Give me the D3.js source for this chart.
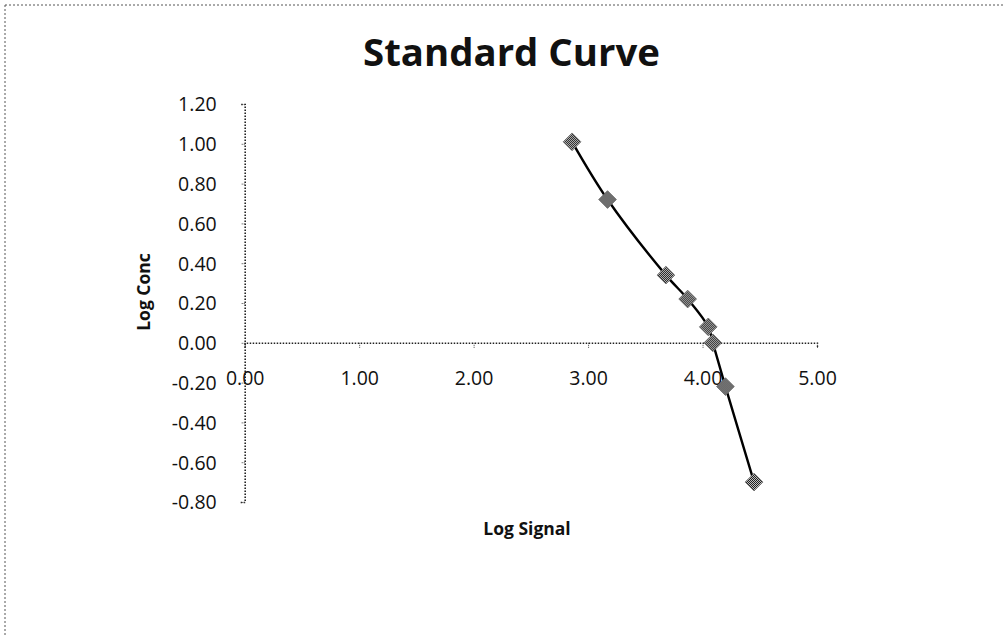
<!DOCTYPE html>
<html>
<head>
<meta charset="utf-8">
<script src="https://cdn.jsdelivr.net/npm/d3@7"></script>
<style>
  html, body { margin: 0; padding: 0; background: #fff; }
  svg { display: block; }
</style>
</head>
<body>
<svg id="chart" width="1005" height="635"></svg>
<script>
// ---- Data ----
const logSignal = [2.86, 3.17, 3.68, 3.87, 4.05, 4.09, 4.20, 4.45];
const logConc   = [1.01, 0.72, 0.34, 0.22, 0.08, 0.00, -0.22, -0.70];
const xTicks = [0, 1, 2, 3, 4, 5];
const yTicks = [1.2, 1.0, 0.8, 0.6, 0.4, 0.2, 0.0, -0.2, -0.4, -0.6, -0.8];
const titleText = "Standard Curve";
const xTitle = "Log Signal";
const yTitle = "Log Conc";

const points = logSignal.map((x, i) => ({ x, y: logConc[i] }));

const svg = d3.select("#chart");
const font = "'Open Sans', 'DejaVu Sans', sans-serif";
const fmt = d => d3.format(".2f")(d).replace("\u2212", "-");

// checkered marker pattern
const defs = svg.append("defs");
const pat = defs.append("pattern")
  .attr("id", "checker").attr("width", 2).attr("height", 2)
  .attr("patternUnits", "userSpaceOnUse");
pat.append("rect").attr("width", 2).attr("height", 2).attr("fill", "#ddd");
pat.append("rect").attr("x", 0).attr("y", 0).attr("width", 1).attr("height", 1).attr("fill", "#000");
pat.append("rect").attr("x", 1).attr("y", 1).attr("width", 1).attr("height", 1).attr("fill", "#000");

// outer frame (top and left dotted edges)
svg.append("line").attr("x1", 5).attr("y1", 5).attr("x2", 1005).attr("y2", 5)
  .attr("stroke", "#555").attr("stroke-width", 1).attr("stroke-dasharray", "2,2");
svg.append("line").attr("x1", 5).attr("y1", 5).attr("x2", 5).attr("y2", 635)
  .attr("stroke", "#555").attr("stroke-width", 1).attr("stroke-dasharray", "2,2");

// scales
const x = d3.scaleLinear().domain([0, 5]).range([244.7, 817]);
const y = d3.scaleLinear().domain([-0.8, 1.2]).range([502, 104]);

// title
const title = svg.append("text")
  .attr("x", 511.5).attr("y", 66)
  .attr("text-anchor", "middle")
  .attr("font-family", font).attr("font-weight", "bold")
  .attr("font-size", 37).attr("fill", "#111")
  .text(titleText);
const tw = title.node().getComputedTextLength();
if (tw > 0) title.attr("font-size", 37 * 297 / tw);

// y axis
const yAxis = d3.axisLeft(y).tickValues(yTicks).tickSize(4).tickFormat(fmt);
const gy = svg.append("g").attr("transform", `translate(${x(0)},0)`).call(yAxis);
gy.select(".domain").attr("stroke", "#222").attr("stroke-dasharray", "1.5,1.5").attr("stroke-width", 1.6);
gy.selectAll(".tick line").attr("stroke", "#444").attr("stroke-dasharray", "1,1");
gy.selectAll(".tick text")
  .attr("x", -28).attr("dy", "0.35em")
  .attr("font-family", font).attr("font-size", 19.5).attr("fill", "#111");

// x axis (crossing at y = 0)
const xAxis = d3.axisBottom(x).tickValues(xTicks).tickSize(5).tickFormat(fmt);
const gx = svg.append("g").attr("transform", `translate(0,${y(0)})`).call(xAxis);
gx.select(".domain").attr("stroke", "#222").attr("stroke-dasharray", "1.5,1.5").attr("stroke-width", 1.4);
gx.selectAll(".tick line").attr("stroke", "#444").attr("stroke-dasharray", "1,1");
gx.selectAll(".tick text")
  .attr("y", 42).attr("dy", 0)
  .attr("font-family", font).attr("font-size", 19.5).attr("fill", "#111");

// axis titles
svg.append("text")
  .attr("transform", `translate(150,292) rotate(-90)`)
  .attr("text-anchor", "middle")
  .attr("font-family", font).attr("font-weight", "bold")
  .attr("font-size", 17.5).attr("fill", "#111")
  .text(yTitle);
svg.append("text")
  .attr("x", 527).attr("y", 535)
  .attr("text-anchor", "middle")
  .attr("font-family", font).attr("font-weight", "bold")
  .attr("font-size", 17.5).attr("fill", "#111")
  .text(xTitle);

// smoothed line
const line = d3.line().x(d => x(d.x)).y(d => y(d.y)).curve(d3.curveCatmullRom.alpha(0.5));
svg.append("path").datum(points)
  .attr("d", line).attr("fill", "none")
  .attr("stroke", "#000").attr("stroke-width", 2.4);

// diamond markers
const sym = d3.symbol().type(d3.symbolDiamond2).size(200);
svg.append("g").selectAll("path").data(points).join("path")
  .attr("transform", d => `translate(${x(d.x)},${y(d.y)})`)
  .attr("d", sym)
  .attr("fill", "url(#checker)")
  .attr("stroke", "#666").attr("stroke-width", 0.8);
</script>
</body>
</html>
